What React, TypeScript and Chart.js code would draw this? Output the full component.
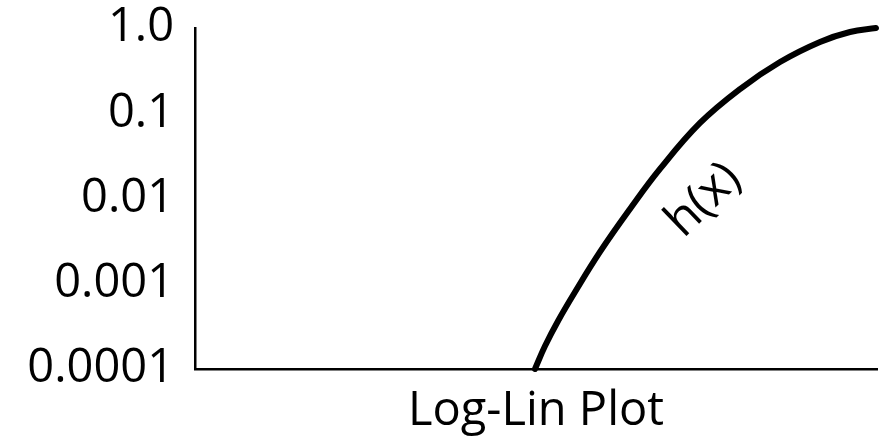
import { useEffect, useRef } from "react";
import { Chart, registerables } from "chart.js";

Chart.register(...registerables);

// h(x) sampled along a normalised x axis (0..1), plotted on a log y axis
const xValues = [
  0.4985, 0.5132, 0.5323, 0.5572, 0.5938, 0.6378, 0.6818, 0.7405, 0.7991, 0.8578, 0.9164,
  0.9604, 0.9985,
];
const hValues = [
  1.0e-4, 1.86e-4, 3.66e-4, 8.0e-4, 2.36e-3, 7.53e-3, 0.0222, 0.0769, 0.1923, 0.399, 0.686,
  0.897, 1.0,
];

// decade ticks on the y axis and their printed labels
const yTickValues = [0.0001, 0.001, 0.01, 0.1, 1];
const yTickLabels = ["0.0001", "0.001", "0.01", "0.1", "1.0"];

const xAxisTitle = "Log-Lin Plot";
const curveLabel = "h(x)";
const curveLabelAt = { x: 0.746, y: 0.0096 };

const FONT = '"Open Sans", "DejaVu Sans", sans-serif';

// writes the curve's name, rotated to follow the line
const curveLabelPlugin = {
  id: "curveLabel",
  afterDatasetsDraw(chart: any) {
    const { ctx, scales } = chart;
    const px = scales.x.getPixelForValue(curveLabelAt.x);
    const py = scales.y.getPixelForValue(curveLabelAt.y);
    ctx.save();
    ctx.translate(px, py);
    ctx.rotate((-44 * Math.PI) / 180);
    ctx.font = `48px ${FONT}`;
    ctx.fillStyle = "#000";
    ctx.textAlign = "center";
    ctx.textBaseline = "middle";
    ctx.fillText(curveLabel, 0, 0);
    ctx.restore();
  },
};

export default function App() {
  const canvasRef = useRef<HTMLCanvasElement | null>(null);

  useEffect(() => {
    if (!canvasRef.current) return;
    const chart = new Chart(canvasRef.current, {
      type: "line",
      data: {
        datasets: [
          {
            label: curveLabel,
            data: xValues.map((x, i) => ({ x, y: hValues[i] })),
            borderColor: "#000",
            borderWidth: 6,
            borderCapStyle: "round",
            borderJoinStyle: "round",
            pointRadius: 0,
            tension: 0.4,
            fill: false,
            clip: false as any,
          },
        ],
      },
      options: {
        animation: false,
        responsive: true,
        maintainAspectRatio: false,
        layout: { padding: { top: 28, right: 10, left: 0, bottom: 0 } },
        plugins: {
          legend: { display: false },
          tooltip: { enabled: false },
        },
        scales: {
          x: {
            type: "linear",
            min: 0,
            max: 1,
            grid: { display: false, drawTicks: false },
            border: { display: true, color: "#000", width: 2.5 },
            ticks: { display: false },
            title: {
              display: true,
              text: xAxisTitle,
              color: "#000",
              font: { family: FONT, size: 47 },
              padding: { top: 12, bottom: 4 },
            },
            afterFit: (s: any) => {
              s.height = 75;
              s.paddingLeft = 0;
              s.paddingRight = 0;
            },
          },
          y: {
            type: "logarithmic",
            min: 1e-4,
            max: 1,
            grid: { display: false, drawTicks: false },
            border: { display: true, color: "#000", width: 2.5 },
            afterBuildTicks: (s: any) => {
              s.ticks = yTickValues.map((v) => ({ value: v }));
            },
            ticks: {
              color: "#000",
              font: { family: FONT, size: 47 },
              padding: 21,
              autoSkip: false,
              callback: (v: any) => {
                const i = yTickValues.findIndex((t) => Math.abs(t - Number(v)) < t * 1e-6);
                return i >= 0 ? yTickLabels[i] : "";
              },
            },
            afterFit: (s: any) => {
              s.width = 195;
              s.paddingTop = 0;
              s.paddingBottom = 0;
            },
          },
        },
      },
      plugins: [curveLabelPlugin],
    });
    return () => chart.destroy();
  }, []);

  return (
    <div style={{ position: "fixed", left: 0, top: 0, width: 887, height: 444, background: "#fff" }}>
      <canvas ref={canvasRef} />
    </div>
  );
}
